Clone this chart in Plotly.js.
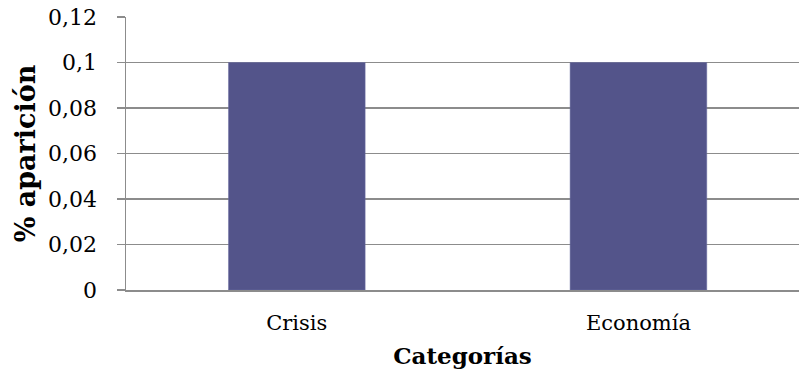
<!DOCTYPE html>
<html>
<head>
<meta charset="utf-8">
<script src="https://cdn.plot.ly/plotly-3.0.1.min.js"></script>
<style>
  html, body { margin: 0; padding: 0; background: #ffffff; }
  #chart { width: 799px; height: 375px; }
</style>
</head>
<body>
<div id="chart"></div>
<script>
// Share of appearance per category
const categorias = ['Crisis', 'Economía'];
const aparicion = [0.1, 0.1];

// Y-axis ticks, decimal comma
const yTickVals = [0, 0.02, 0.04, 0.06, 0.08, 0.1, 0.12];
const yTickText = ['0', '0,02', '0,04', '0,06', '0,08', '0,1', '0,12'];

const FONT = 'DejaVu Serif, Liberation Serif, serif';
const GRID = '#8c8c8c';

const trace = {
  type: 'bar',
  x: categorias,
  y: aparicion,
  width: 0.4,
  marker: { color: '#53548a', line: { color: '#6b6ca0', width: 0.5 } },
  hoverinfo: 'x+y'
};

const layout = {
  width: 799,
  height: 375,
  margin: { l: 126, r: 0, t: 17, b: 85 },
  paper_bgcolor: '#ffffff',
  plot_bgcolor: '#ffffff',
  showlegend: false,
  font: { family: FONT, size: 21, color: '#000000' },
  xaxis: {
    type: 'category',
    range: [-0.5, 1.47],
    showgrid: false,
    showline: true,
    linecolor: GRID,
    linewidth: 1.5,
    ticks: '',
    tickfont: { family: FONT, size: 21, color: '#000000' },
    ticklabelstandoff: 13,
    title: {
      text: '<b>Categorías</b>',
      font: { family: FONT, size: 23, color: '#000000' },
      standoff: 14
    },
    automargin: false,
    fixedrange: true
  },
  yaxis: {
    range: [0, 0.12],
    tickvals: yTickVals,
    ticktext: yTickText,
    showgrid: true,
    gridcolor: GRID,
    gridwidth: 1.5,
    zeroline: false,
    showline: true,
    linecolor: GRID,
    linewidth: 1.5,
    ticks: 'outside',
    ticklen: 8,
    tickwidth: 1.5,
    tickcolor: GRID,
    tickfont: { family: FONT, size: 22, color: '#000000' },
    ticklabelstandoff: 15,
    title: {
      text: '<b>% aparición</b>',
      font: { family: FONT, size: 27, color: '#000000' },
      standoff: 4
    },
    automargin: false,
    fixedrange: true
  }
};

Plotly.newPlot('chart', [trace], layout, { displayModeBar: false, staticPlot: true });
</script>
</body>
</html>
